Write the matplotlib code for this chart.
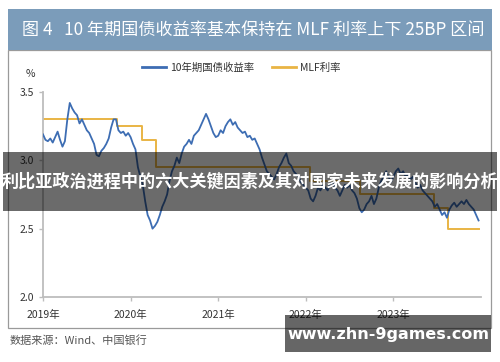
import matplotlib
matplotlib.use("Agg")
import matplotlib.pyplot as plt
from matplotlib.patches import Rectangle
from matplotlib.lines import Line2D

plt.rcParams['font.family'] = ['Noto Sans CJK SC', 'DejaVu Sans']

# 10-year government bond yield, ~10-day samples, 36 per year (2019-2023)
yield_2019 = [3.19, 3.15, 3.14, 3.16, 3.13, 3.17, 3.21, 3.15, 3.10, 3.14, 3.30, 3.42,
              3.38, 3.35, 3.33, 3.27, 3.30, 3.26, 3.22, 3.20, 3.16, 3.12, 3.04, 3.03,
              3.07, 3.09, 3.12, 3.16, 3.24, 3.30, 3.30, 3.22, 3.20, 3.21, 3.18, 3.20]
yield_2020 = [3.17, 3.12, 3.08, 2.95, 2.88, 2.82, 2.70, 2.60, 2.56, 2.50, 2.52, 2.55,
              2.60, 2.66, 2.70, 2.75, 2.85, 2.92, 2.96, 3.02, 2.98, 3.05, 3.10, 3.12,
              3.15, 3.12, 3.18, 3.20, 3.22, 3.26, 3.30, 3.34, 3.30, 3.25, 3.20, 3.17]
yield_2021 = [3.18, 3.22, 3.20, 3.25, 3.28, 3.30, 3.26, 3.28, 3.24, 3.22, 3.20, 3.21,
              3.17, 3.18, 3.15, 3.16, 3.12, 3.08, 3.02, 2.97, 2.92, 2.90, 2.88, 2.86,
              2.90, 2.95, 2.98, 3.02, 3.05, 2.98, 2.96, 2.92, 2.90, 2.88, 2.84, 2.82]
yield_2022 = [2.80, 2.78, 2.72, 2.70, 2.74, 2.80, 2.78, 2.82, 2.80, 2.78, 2.83, 2.84,
              2.80, 2.78, 2.74, 2.78, 2.82, 2.80, 2.82, 2.78, 2.76, 2.72, 2.65, 2.62,
              2.64, 2.68, 2.70, 2.74, 2.68, 2.72, 2.80, 2.85, 2.88, 2.92, 2.88, 2.84]
yield_2023 = [2.88, 2.92, 2.94, 2.90, 2.92, 2.88, 2.90, 2.86, 2.88, 2.84, 2.80, 2.82,
              2.78, 2.76, 2.74, 2.72, 2.70, 2.66, 2.68, 2.64, 2.60, 2.62, 2.58, 2.64,
              2.67, 2.69, 2.66, 2.68, 2.70, 2.68, 2.71, 2.68, 2.66, 2.64, 2.60, 2.56]
bond_yield = yield_2019 + yield_2020 + yield_2021 + yield_2022 + yield_2023
bond_x = [2019 + i / 36 for i in range(len(bond_yield))]

# MLF rate change points (decimal year, rate)
mlf_dates = [2019.0, 2019.84, 2020.13, 2020.29, 2022.05, 2022.62, 2023.46, 2023.62, 2023.98]
mlf_rates = [3.30, 3.25, 3.15, 2.95, 2.85, 2.75, 2.65, 2.50, 2.50]

years = [2019, 2020, 2021, 2022, 2023]
year_labels = ['2019年', '2020年', '2021年', '2022年', '2023年']

fig = plt.figure(figsize=(5, 3.62), dpi=100)
W, H = 500, 362

def fx(px):
    return px / W

def fy(py):
    return 1 - py / H

# chart frame
fig.patches.append(Rectangle((fx(8), fy(328)), fx(491) - fx(8), fy(50) - fy(328),
                             transform=fig.transFigure, facecolor='none',
                             edgecolor='#9a9a9a', linewidth=0.9, zorder=-1))
# title banner
fig.patches.append(Rectangle((fx(8), fy(50)), fx(492) - fx(8), fy(9) - fy(50),
                             transform=fig.transFigure, facecolor='#7b9cba',
                             edgecolor='none', zorder=1))
fig.text(fx(22), fy(30), '图 4   10 年期国债收益率基本保持在 MLF 利率上下 25BP 区间',
         color='white', fontsize=12.3, va='center', ha='left')

ax = fig.add_axes([fx(43), fy(297), fx(481) - fx(43), fy(92) - fy(297)])
ax.patch.set_alpha(0)
ax.plot(bond_x, bond_yield, color='#3d6db3', linewidth=1.3, zorder=3)
ax.plot(mlf_dates, mlf_rates, color='#e9b444', linewidth=1.4, drawstyle='steps-post', zorder=2)

ax.set_xlim(2019, 2024)
ax.set_ylim(2.0, 3.5)
ax.set_xticks(years)
ax.set_xticklabels(year_labels)
ax.set_yticks([2.0, 2.5, 3.0, 3.5])
ax.set_yticklabels(['2.0', '2.5', '3.0', '3.5'])
for s in ['top', 'right']:
    ax.spines[s].set_visible(False)
for s in ['left', 'bottom']:
    ax.spines[s].set_color('#bdbdbd')
    ax.spines[s].set_linewidth(1.3)
ax.tick_params(axis='both', colors='#bdbdbd', labelcolor='#333333', labelsize=7.5,
               length=3, width=1)
ax.tick_params(axis='x', pad=6)
fig.text(fx(30), fy(74), '%', fontsize=7.5, color='#333333', ha='center', va='center')

handles = [Line2D([], [], color='#3d6db3', linewidth=2),
           Line2D([], [], color='#e9b444', linewidth=2)]
fig.legend(handles, ['10年期国债收益率', 'MLF利率'], loc='center', bbox_to_anchor=(fx(241), fy(68)),
           ncol=2, frameon=False, fontsize=7.5, handlelength=2.3, handletextpad=0.4,
           columnspacing=1.7, labelcolor='#333333')

fig.text(fx(10), fy(341), '数据来源：Wind、中国银行', fontsize=8, color='#555555',
         ha='left', va='center')

# overlay banner
fig.patches.append(Rectangle((fx(3), fy(211)), fx(497) - fx(3), fy(152) - fy(211),
                             transform=fig.transFigure, facecolor='black',
                             alpha=0.58, edgecolor='none', zorder=10))
fig.text(fx(250), fy(182), '利比亚政治进程中的六大关键因素及其对国家未来发展的影响分析',
         color='white', fontsize=12.3, fontweight='bold', ha='center', va='center', zorder=11)

# watermark
fig.patches.append(Rectangle((fx(285), fy(352)), fx(491) - fx(285), fy(315) - fy(352),
                             transform=fig.transFigure, facecolor='black',
                             alpha=0.6, edgecolor='none', zorder=10))
fig.text(fx(388), fy(334), 'www.zhn-9games.com', color='white', fontsize=11.5,
         fontweight='bold', ha='center', va='center', zorder=11, family='DejaVu Sans')

fig.savefig('out.png', dpi=100)
